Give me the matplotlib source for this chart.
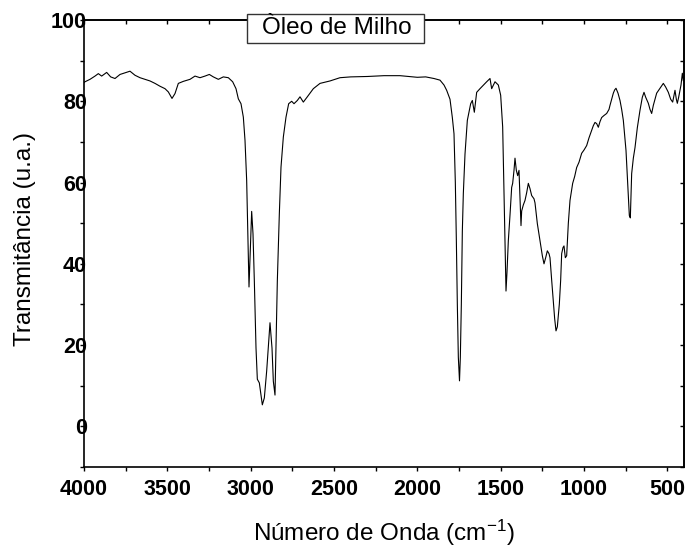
import matplotlib
matplotlib.use('Agg')
import matplotlib.pyplot as plt
from matplotlib.ticker import MultipleLocator
from matplotlib.patches import Rectangle

# ---- data ----
wavenumber = [4000, 3994, 3964, 3934, 3914, 3894, 3864, 3840, 3814, 3784, 3754, 3724,
              3694, 3664, 3634, 3604, 3574, 3544, 3514, 3494, 3472, 3454, 3434, 3404,
              3364, 3334, 3304, 3274, 3248, 3224, 3194, 3164, 3134, 3108, 3088, 3074,
              3058, 3044, 3034, 3024, 3016, 3010, 3002, 2994, 2986, 2978, 2968, 2960,
              2948, 2930, 2918, 2904, 2884, 2872, 2864, 2854, 2848, 2840, 2828, 2818,
              2804, 2788, 2772, 2754, 2740, 2720, 2704, 2684, 2660, 2624, 2584, 2524,
              2464, 2400, 2300, 2200, 2104, 2000, 1950, 1900, 1864, 1840, 1824, 1804,
              1790, 1780, 1772, 1766, 1760, 1754, 1747, 1742, 1736, 1730, 1724, 1714,
              1700, 1680, 1670, 1658, 1644, 1624, 1584, 1564, 1554, 1534, 1514, 1500,
              1488, 1478, 1468, 1462, 1454, 1444, 1434, 1428, 1420, 1414, 1406, 1398,
              1390, 1384, 1378, 1374, 1364, 1354, 1344, 1334, 1324, 1314, 1300, 1294,
              1280, 1264, 1250, 1240, 1230, 1220, 1210, 1204, 1194, 1184, 1176, 1168,
              1160, 1148, 1140, 1134, 1126, 1120, 1112, 1104, 1094, 1084, 1068, 1056,
              1044, 1030, 1014, 1000, 984, 970, 954, 944, 934, 924, 914, 904, 894, 880,
              864, 850, 844, 834, 824, 816, 808, 796, 784, 774, 764, 756, 748, 738, 728,
              722, 714, 704, 694, 680, 664, 650, 640, 630, 614, 604, 594, 584, 574, 564,
              544, 524, 510, 494, 480, 468, 460, 454, 446, 440, 432, 424, 418, 410, 404,
              400]
transmittance = [84.6, 84.8, 85.4, 86.2, 86.8, 86.2, 87.1, 86.0, 85.6, 86.6, 87.0, 87.4,
                 86.4, 85.8, 85.4, 85.0, 84.4, 83.7, 83.1, 82.3, 80.7, 81.9, 84.4, 84.9,
                 85.4, 86.2, 85.8, 86.2, 86.6, 86.0, 85.4, 86.0, 85.8, 84.8, 83.1, 80.6,
                 79.4, 76.1, 70.4, 60.5, 45.7, 34.3, 44.0, 52.9, 47.4, 35.8, 19.3, 11.6,
                 10.7, 5.3, 7.0, 13.6, 25.5, 19.3, 11.1, 7.7, 19.3, 35.8, 52.3, 63.8,
                 71.2, 76.1, 79.4, 80.0, 79.4, 80.2, 81.1, 79.8, 81.1, 83.1, 84.4, 85.0,
                 85.8, 86.0, 86.1, 86.3, 86.3, 85.9, 86.0, 85.6, 85.2, 84.0, 82.7, 80.5,
                 76.0, 72.0, 60.0, 46.0, 30.0, 17.0, 11.2, 17.0, 30.0, 48.0, 57.3, 67.0,
                 75.3, 79.4, 80.2, 77.3, 82.2, 83.1, 84.8, 85.6, 83.1, 84.8, 84.0, 81.5,
                 73.7, 53.0, 33.3, 38.0, 45.7, 52.0, 58.8, 59.8, 63.0, 66.0, 63.0, 61.7,
                 63.0, 56.0, 49.4, 53.0, 54.5, 55.6, 57.5, 59.8, 58.5, 56.8, 56.0, 55.0,
                 49.9, 45.7, 42.0, 40.0, 41.5, 43.2, 42.5, 41.5, 36.0, 30.9, 26.5, 23.5,
                 24.5, 30.1, 36.0, 42.5, 44.0, 44.4, 41.5, 42.0, 50.0, 55.6, 59.8, 61.5,
                 63.7, 65.0, 67.2, 68.0, 69.1, 71.0, 72.8, 74.0, 74.8, 74.5, 73.6, 75.0,
                 76.0, 76.5, 77.0, 78.0, 79.0, 80.5, 82.0, 82.8, 83.2, 82.0, 80.2, 78.0,
                 75.3, 71.5, 67.9, 60.0, 51.9, 51.3, 62.2, 66.0, 68.6, 73.5, 77.8, 81.0,
                 82.2, 81.0, 79.5, 78.0, 77.0, 79.0, 80.5, 82.0, 83.2, 84.4, 83.5, 82.2,
                 80.5, 79.8, 81.5, 82.7, 80.5, 79.5, 81.0, 82.7, 84.0, 86.9, 85.0, 86.0]

x_ticks = [4000, 3500, 3000, 2500, 2000, 1500, 1000, 500]
y_ticks = [0, 20, 40, 60, 80, 100]
legend_label = 'Òleo de Milho'
x_label = r'Número de Onda (cm$^{\mathrm{-1}}$)'
y_label = 'Transmitância (u.a.)'

plt.rcParams['font.family'] = ['Liberation Sans', 'DejaVu Sans']
plt.rcParams['mathtext.fontset'] = 'custom'
plt.rcParams['mathtext.rm'] = 'Liberation Sans'
plt.rcParams['mathtext.it'] = 'Liberation Sans:italic'
plt.rcParams['mathtext.bf'] = 'Liberation Sans:bold'

fig = plt.figure(figsize=(6.86, 5.5), dpi=100)
ax = fig.add_axes([84/686, 1-467/550, 600/686, 447/550])

ax.plot(wavenumber, transmittance, color='black', lw=0.8)
ax.set_xlim(4000, 400)
ax.set_ylim(-10, 100)

ax.set_xticks(x_ticks)
ax.set_yticks(y_ticks)
ax.xaxis.set_minor_locator(MultipleLocator(250))
ax.yaxis.set_minor_locator(MultipleLocator(10))
ax.tick_params(which='both', direction='out', length=3, width=1.0,
               top=False, right=False)
ax.tick_params(axis='x', which='major', labelsize=15.5, pad=5.5)
ax.tick_params(axis='y', which='major', labelsize=15.5, pad=-5)
for lab in ax.get_xticklabels() + ax.get_yticklabels():
    lab.set_fontweight('bold')

for s in ax.spines.values():
    s.set_linewidth(1.2)

top = ax.secondary_xaxis('top')
top.set_xticks(x_ticks)
top.xaxis.set_minor_locator(MultipleLocator(250))
top.tick_params(which='both', direction='in', length=3, width=1.0, labeltop=False)
top.spines['top'].set_linewidth(1.2)

right = ax.secondary_yaxis('right')
right.set_yticks(y_ticks)
right.yaxis.set_minor_locator(MultipleLocator(10))
right.tick_params(which='both', direction='in', length=3, width=1.0, labelright=False)
right.spines['right'].set_linewidth(1.2)

ax.set_xlabel(x_label, fontsize=17.5)
ax.xaxis.set_label_coords(0.5, -0.114)
ax.set_ylabel(y_label, fontsize=17.5)
ax.yaxis.set_label_coords(-0.08, 0.51)

# legend box straddling the top axis
box = Rectangle((0.2717, 0.9485), 0.295, 0.065, transform=ax.transAxes,
                facecolor='white', edgecolor='#333333', lw=1.0, clip_on=False, zorder=10)
ax.add_patch(box)
ax.text(0.2967, 0.981, legend_label, transform=ax.transAxes, fontsize=17.5,
        ha='left', va='center', zorder=11)

fig.savefig('out.png', dpi=100)
